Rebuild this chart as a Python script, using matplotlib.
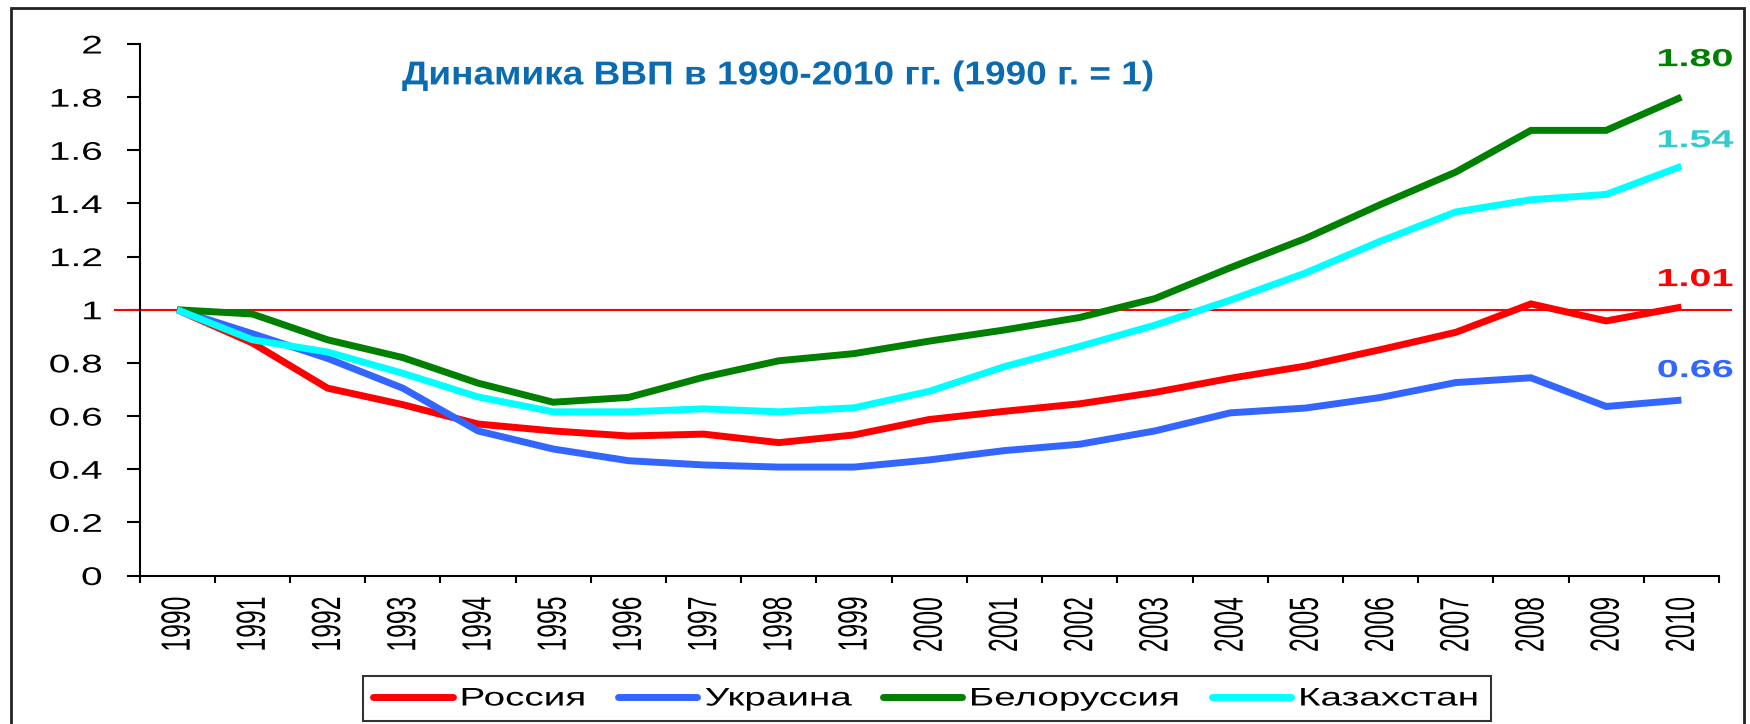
import matplotlib
matplotlib.use("Agg")
import matplotlib.pyplot as plt
from matplotlib.patches import Rectangle
from matplotlib.patheffects import AbstractPathEffect
from matplotlib.transforms import Affine2D, Bbox
from matplotlib.ticker import FixedLocator, FuncFormatter, NullFormatter

# ---------------- data ----------------
years = [str(y) for y in range(1990, 2011)]
russia = [1.0, 0.875, 0.705, 0.643, 0.570, 0.544, 0.525, 0.532, 0.500, 0.529, 0.587,
          0.618, 0.646, 0.689, 0.742, 0.788, 0.850, 0.915, 1.022, 0.958, 1.01]
ukraine = [1.0, 0.910, 0.817, 0.705, 0.544, 0.476, 0.432, 0.416, 0.408, 0.408, 0.435,
           0.470, 0.494, 0.544, 0.612, 0.630, 0.670, 0.726, 0.744, 0.636, 0.66]
belarus = [1.0, 0.984, 0.887, 0.820, 0.724, 0.652, 0.670, 0.746, 0.808, 0.835, 0.882,
           0.924, 0.971, 1.042, 1.158, 1.268, 1.396, 1.518, 1.675, 1.675, 1.80]
kazakh = [1.0, 0.887, 0.841, 0.761, 0.672, 0.616, 0.616, 0.627, 0.616, 0.631, 0.693,
          0.786, 0.862, 0.942, 1.036, 1.138, 1.258, 1.368, 1.414, 1.434, 1.54]
series_names = ["Россия", "Украина", "Белоруссия", "Казахстан"]
end_labels = ["1.01", "0.66", "1.80", "1.54"]
title = "Динамика ВВП в 1990-2010 гг. (1990 г. = 1)"

# ---------------- styles ----------------
colors = ["#FF0000", "#3366FF", "#008000", "#00FFFF"]
label_colors = ["#FF0000", "#3366FF", "#008000", "#33CCCC"]
label_dy_px = [21, 23, 31, 19]   # vertical offsets of end labels (pixels)


class StretchX(AbstractPathEffect):
    """Draw text stretched horizontally (the reference uses wide, stretched type)."""
    def __init__(self, sx, anchor="left"):
        super().__init__()
        self.sx = sx
        self.anchor = anchor

    def draw_path(self, renderer, gc, tpath, affine, rgbFace=None):
        bb = tpath.get_extents(affine)
        if self.anchor == "left":
            x0 = bb.x0
        elif self.anchor == "right":
            x0 = bb.x1
        else:
            x0 = 0.5 * (bb.x0 + bb.x1)
        t = affine + Affine2D().translate(-x0, 0).scale(self.sx, 1.0).translate(x0, 0)
        renderer.draw_path(gc, tpath, t, rgbFace)


def widen_layout(text, sx):
    orig = text._get_layout

    def _layout(*args, **kwargs):
        bbox, info, descent = orig(*args, **kwargs)
        return Bbox.from_bounds(bbox.x0, bbox.y0, bbox.width * sx, bbox.height), info, descent
    text._get_layout = _layout


plt.rcParams['font.family'] = ['Liberation Sans', 'DejaVu Sans']

W, H = 1750, 724
fig = plt.figure(figsize=(W / 100, H / 100), dpi=100)
ax_l, ax_r, ax_t, ax_b = 139.5, 1719.0, 44.0, 575.5
ax = fig.add_axes([ax_l / W, 1 - ax_b / H, (ax_r - ax_l) / W, (ax_b - ax_t) / H])

x = list(range(len(years)))
data = [russia, ukraine, belarus, kazakh]
handles = []
for vals, c, name in zip(data, colors, series_names):
    h, = ax.plot(x, vals, color=c, lw=5, solid_capstyle='butt', solid_joinstyle='miter',
                 label=name, zorder=3)
    handles.append(h)

ax.axhline(1.0, xmin=-0.0155, xmax=1.0076, color="#FF0000", lw=1.5, zorder=2, clip_on=False)

for vals, lab, c, dy in zip(data, end_labels, label_colors, label_dy_px):
    t = ax.annotate(lab, xy=(x[-1], vals[-1]), xytext=(-24 * 0.72, dy * 0.72),
                    textcoords='offset points', ha='left', va='baseline', fontsize=17.8,
                    fontweight='bold', color=c, annotation_clip=False)
    t.set_path_effects([StretchX(1.6, "left")])

ax.set_xlim(-0.5, len(years) - 0.5)
ax.set_ylim(0, 2)
ax.xaxis.set_major_locator(FixedLocator([i - 0.5 for i in range(len(years) + 1)]))
ax.xaxis.set_major_formatter(NullFormatter())
ax.set_xticks(x, years, minor=True)
ax.tick_params(axis='x', which='major', direction='out', length=5.3, width=1.5, color='black')
ax.tick_params(axis='x', which='minor', length=0, labelsize=17.8, labelrotation=90, pad=15.3)
ax.set_yticks([i * 0.2 for i in range(11)])
ax.yaxis.set_major_formatter(FuncFormatter(lambda v, p: f"{v:g}"))
ax.tick_params(axis='y', direction='out', length=9.4, width=1.5, labelsize=18.4, pad=17.5)
for s in ['top', 'right']:
    ax.spines[s].set_visible(False)
for s in ['left', 'bottom']:
    ax.spines[s].set_linewidth(1.5)

for t in ax.get_xticklabels(minor=True):
    t.set_path_effects([StretchX(1.65, "center")])
for t in ax.get_yticklabels():
    t.set_path_effects([StretchX(1.52, "right")])

tt = fig.text(402 / W, 1 - 84.4 / H, title, ha='left', va='baseline', fontsize=23.8,
              fontweight='bold', color='#0B6BB0')
tt.set_path_effects([StretchX(1.12, "left")])

leg = fig.legend(handles=handles, labels=series_names, loc='center',
                 bbox_to_anchor=(927 / W, 1 - 698.5 / H), ncol=4, fontsize=18.3,
                 frameon=True, fancybox=False, handlelength=3.13, handletextpad=0.3,
                 columnspacing=1.2, borderpad=0.4, borderaxespad=0)
leg.get_frame().set_edgecolor('black')
leg.get_frame().set_linewidth(1.5)
for ln in leg.get_lines():
    ln.set_solid_capstyle('round')
for t in leg.get_texts():
    widen_layout(t, 1.52)
    t.set_path_effects([StretchX(1.52, "left")])

fig.add_artist(Rectangle((11 / W, -0.05), (1744 - 11) / W, 1 - 8 / H + 0.05,
                         transform=fig.transFigure, fill=False, edgecolor='#222222',
                         lw=2, clip_on=False))

fig.savefig("out.png", dpi=100)
